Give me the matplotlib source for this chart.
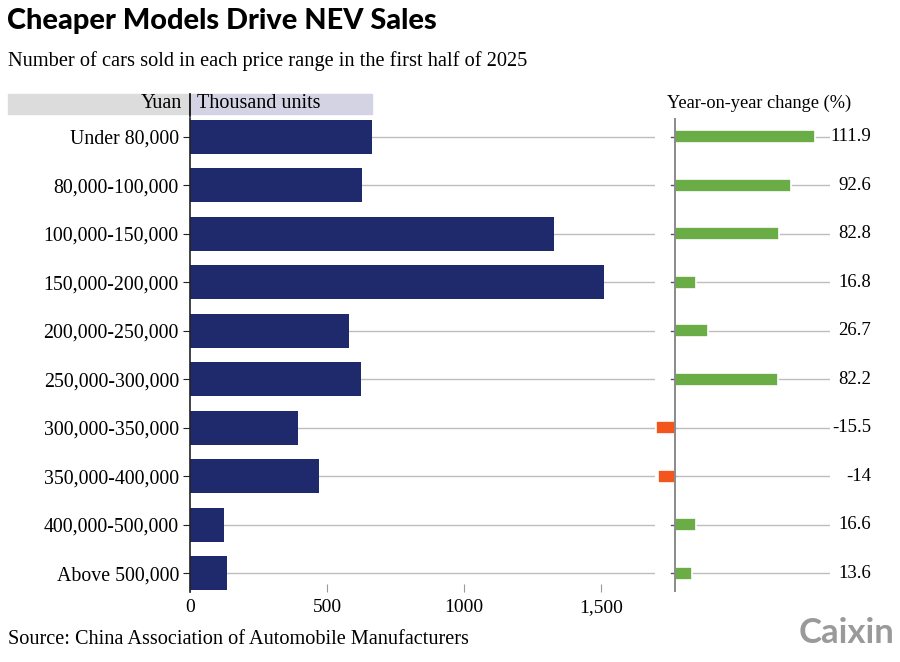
import matplotlib.pyplot as plt
from matplotlib.patches import Rectangle

categories = ["Under 80,000", "80,000-100,000", "100,000-150,000", "150,000-200,000",
              "200,000-250,000", "250,000-300,000", "300,000-350,000", "350,000-400,000",
              "400,000-500,000", "Above 500,000"]
sales = [664, 628, 1328, 1511, 580, 624, 394, 471, 124, 135]
yoy = [111.9, 92.6, 82.8, 16.8, 26.7, 82.2, -15.5, -14, 16.6, 13.6]
yoy_labels = ["111.9", "92.6", "82.8", "16.8", "26.7", "82.2", "-15.5", "-14", "16.6", "13.6"]
xticks = [0, 500, 1000, 1500]
xtick_labels = ["0", "500", "1000", "1,500"]

navy = "#1f2a6c"
green = "#6aad47"
orange = "#f2561d"
grid = "#bdbdbd"
serif = "Liberation Serif"

W, H = 900, 662
fig = plt.figure(figsize=(9, 6.62), dpi=100)

def fx(px):
    return px / W

def fy(py):
    return 1 - py / H

n = len(categories)
pos = list(range(n))
ylim = (n - 1 + 0.39, -0.39)

# left panel: sales
ax = fig.add_axes([fx(190), fy(592), fx(655 - 190), (592 - 118) / H])
ax.set_xlim(0, 1697)
ax.set_ylim(*ylim)
for i, v in zip(pos, sales):
    ax.plot([v, 1697], [i, i], color=grid, lw=1, zorder=1)
ax.barh(pos, sales, height=0.7, color=navy, zorder=2)
for s in ["top", "right", "bottom"]:
    ax.spines[s].set_visible(False)
ax.spines["left"].set_color("#222222")
ax.spines["left"].set_linewidth(1.2)
ax.set_yticks(pos)
ax.set_yticklabels(categories, fontfamily=serif, fontsize=14.3)
ax.tick_params(axis="y", length=5, color="#222222", pad=3)
ax.set_xticks(xticks)
ax.set_xticklabels(xtick_labels, fontfamily=serif, fontsize=14)
ax.tick_params(axis="x", length=6, color="#999999", direction="in", pad=5)

# right panel: year-on-year change
ax2 = fig.add_axes([fx(655), fy(592), fx(830 - 655), (592 - 118) / H])
ax2.set_xlim(-16, 124)
ax2.set_ylim(*ylim)
for i in pos:
    ax2.plot([0, 124], [i, i], color=grid, lw=1, zorder=1)
cols = [green if v >= 0 else orange for v in yoy]
ax2.barh(pos, yoy, height=0.27, color=cols, edgecolor="white", linewidth=1.2, zorder=2)
ax2.axvline(0, color="#777777", lw=1.2, zorder=3)
for i in pos:
    ax2.plot([-3, 0], [i, i], color="#555555", lw=1, zorder=1.5)
ax2.axis("off")
for i, lab in zip(pos, yoy_labels):
    ax2.annotate(lab, xy=(1, i), xycoords=("axes fraction", "data"), xytext=(41, 0),
                 textcoords="offset pixels", ha="right", va="center",
                 fontfamily=serif, fontsize=13.5)

# header strip
fig.patches.append(Rectangle((fx(8), fy(114)), fx(182), 20 / H, transform=fig.transFigure,
                             color="#dcdcdc", zorder=0))
fig.patches.append(Rectangle((fx(190), fy(114)), fx(182), 20 / H, transform=fig.transFigure,
                             color="#d3d3e3", zorder=0))
fig.add_artist(plt.Line2D([fx(190), fx(190)], [fy(116), fy(94)], color="black", lw=1.2))
fig.text(fx(182), fy(104), "Yuan", ha="right", va="center", fontfamily=serif, fontsize=14.5)
fig.text(fx(197), fy(104), "Thousand units", ha="left", va="center", fontfamily=serif, fontsize=14.5)
fig.text(fx(759), fy(103), "Year-on-year change (%)", ha="center", va="center",
         fontfamily=serif, fontsize=13.2)

fig.text(fx(7), fy(21), "Cheaper Models Drive NEV Sales", ha="left", va="center",
         fontfamily="Lato", fontweight="black", fontsize=20.8)
fig.text(fx(8), fy(61), "Number of cars sold in each price range in the first half of 2025",
         ha="left", va="center", fontfamily=serif, fontsize=14.7)
fig.text(fx(8), fy(640), "Source: China Association of Automobile Manufacturers",
         ha="left", va="center", fontfamily=serif, fontsize=14.6)
fig.text(fx(895), fy(633), "Caixin", ha="right", va="center", fontfamily="Lato",
         fontweight="bold", fontsize=25, color="#9a9a9a")

fig.savefig("out.png", dpi=100)
